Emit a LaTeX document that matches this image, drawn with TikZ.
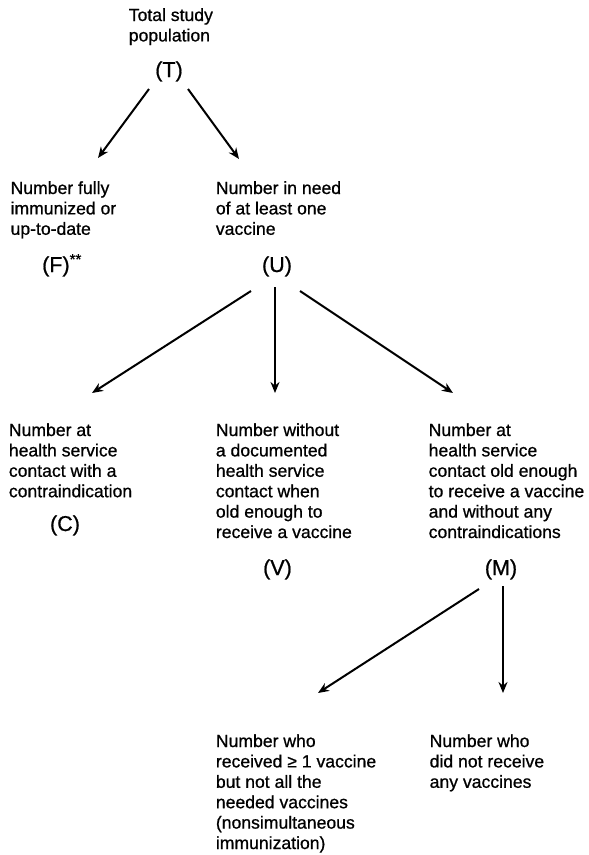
\documentclass[tikz,border=0pt]{standalone}
\usepackage{fontspec}
\setmainfont{Liberation Sans}[BoldFont=Liberation Sans, BoldFeatures={FakeBold=0.8}]
\usetikzlibrary{arrows.meta}
\newcommand{\txtblock}[1]{\begin{tabular}[t]{@{}l@{}}#1\end{tabular}}
\begin{document}
\begin{tikzpicture}[x=1pt,y=-1pt,
  txt/.style={anchor=base west, inner sep=0pt, font=\fontsize{17.6}{20.4}\selectfont\bfseries},
  lbl/.style={anchor=base, inner sep=0pt, font=\fontsize{21.5}{24}\selectfont\bfseries},
  arr/.style={line width=2pt, -{Stealth[length=11pt,width=9pt,inset=3.5pt]}}]
\useasboundingbox (0,0) rectangle (589,855);

% text blocks
\node[txt] (tT) at (128.6,21) {\txtblock{Total study\\population}};
\node[lbl] (T) at (169,77) {(T)};

\node[txt] (tF) at (10.4,194) {\txtblock{Number fully\\immunized or\\up-to-date}};
\node[lbl, anchor=base west] (F) at (42,272) {(F)\textsuperscript{**}};

\node[txt] (tU) at (215.7,194) {\txtblock{Number in need\\of at least one\\vaccine}};
\node[lbl] (U) at (277,272) {(U)};

\node[txt] (tC) at (8.7,436) {\txtblock{Number at\\health service\\contact with a\\contraindication}};
\node[lbl] (C) at (65,531) {(C)};

\node[txt] (tV) at (215.7,436) {\txtblock{Number without\\a documented\\health service\\contact when\\old enough to\\receive a vaccine}};
\node[lbl] (V) at (277.5,575) {(V)};

\node[txt] (tM) at (428.5,436) {\txtblock{Number at\\health service\\contact old enough\\to receive a vaccine\\and without any\\contraindications}};
\node[lbl] (M) at (501,575) {(M)};

\node[txt] (tN) at (215.7,747) {\txtblock{Number who\\received ≥ 1 vaccine\\but not all the\\needed vaccines\\(nonsimultaneous\\immunization)}};
\node[txt] (tD) at (429.5,747) {\txtblock{Number who\\did not receive\\any vaccines}};

% arrow end points
\coordinate (T1) at (149,89);
\coordinate (T2) at (188,89);
\coordinate (F0) at (98,158);
\coordinate (U0) at (239,159);
\coordinate (U1) at (251,291);
\coordinate (U2) at (275,287);
\coordinate (U3) at (300,291);
\coordinate (C0) at (92,393);
\coordinate (V0) at (275,393);
\coordinate (M0) at (453,393);
\coordinate (M1) at (479,589);
\coordinate (M2) at (503,586);
\coordinate (N0) at (318,693);
\coordinate (D0) at (503,693);

\draw[arr] (T1) -- (F0);
\draw[arr] (T2) -- (U0);
\draw[arr] (U1) -- (C0);
\draw[arr] (U2) -- (V0);
\draw[arr] (U3) -- (M0);
\draw[arr] (M1) -- (N0);
\draw[arr] (M2) -- (D0);
\end{tikzpicture}
\end{document}
